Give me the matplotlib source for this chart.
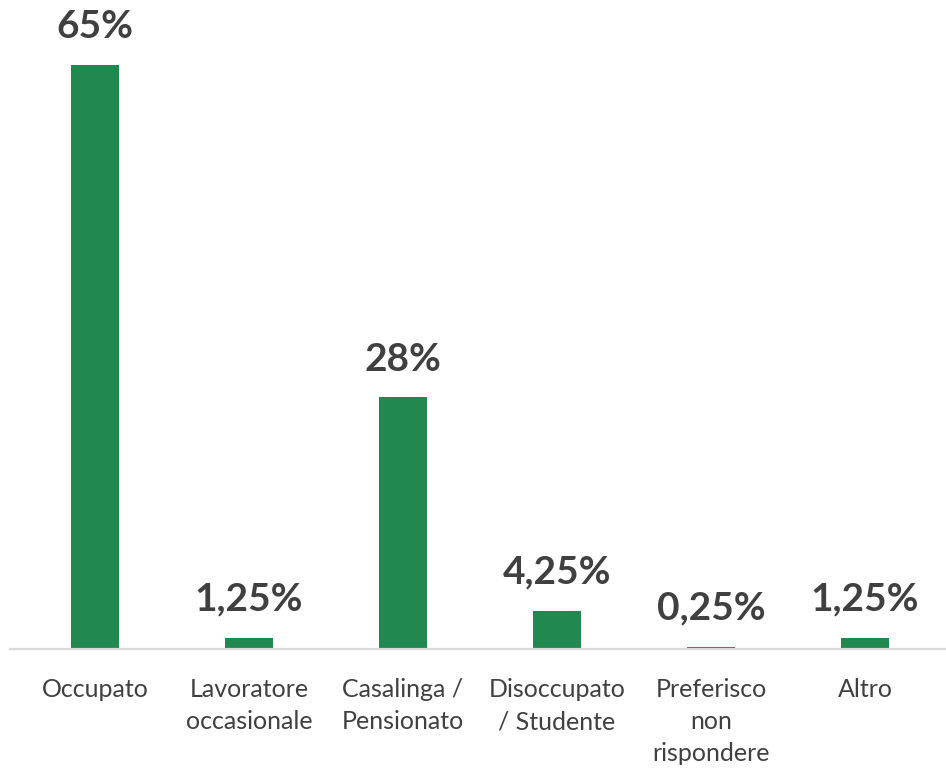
import matplotlib
matplotlib.use("Agg")
import matplotlib.pyplot as plt

categories = ["Occupato", "Lavoratore\noccasionale", "Casalinga /\nPensionato",
              "Disoccupato\n/ Studente", "Preferisco\nnon\nrispondere", "Altro"]
values = [65, 1.25, 28, 4.25, 0.25, 1.25]
value_labels = ["65%", "1,25%", "28%", "4,25%", "0,25%", "1,25%"]

bar_color = "#21884F"
text_color = "#404040"

plt.rcParams["font.family"] = ["Lato", "DejaVu Sans"]

W, H = 946, 770
fig = plt.figure(figsize=(W / 100, H / 100), dpi=100)
ax = fig.add_axes([10 / W, 1 - 649 / H, 1 - 10 / W, 649 / H])

x = list(range(len(categories)))
ax.bar(x, values, width=48 / 154, color=bar_color)

for xi, v, lab in zip(x, values, value_labels):
    ax.annotate(lab, (xi, v), xytext=(0, 15), textcoords="offset points",
                ha="center", va="bottom", fontsize=28, fontweight="bold",
                color=text_color)

ax.set_xlim((10 - 95) / 154, (946 - 95) / 154)
ax.set_ylim(0, 649 / 8.985)
ax.set_xticks(x)
ax.set_xticklabels(categories, fontsize=18, color=text_color, linespacing=1.48)
ax.tick_params(axis="x", length=0, pad=21)
ax.set_yticks([])
for side in ("top", "right", "left"):
    ax.spines[side].set_visible(False)
ax.spines["bottom"].set_color("#D9D9D9")
ax.spines["bottom"].set_linewidth(1.6)

fig.savefig("out.png", dpi=100)
